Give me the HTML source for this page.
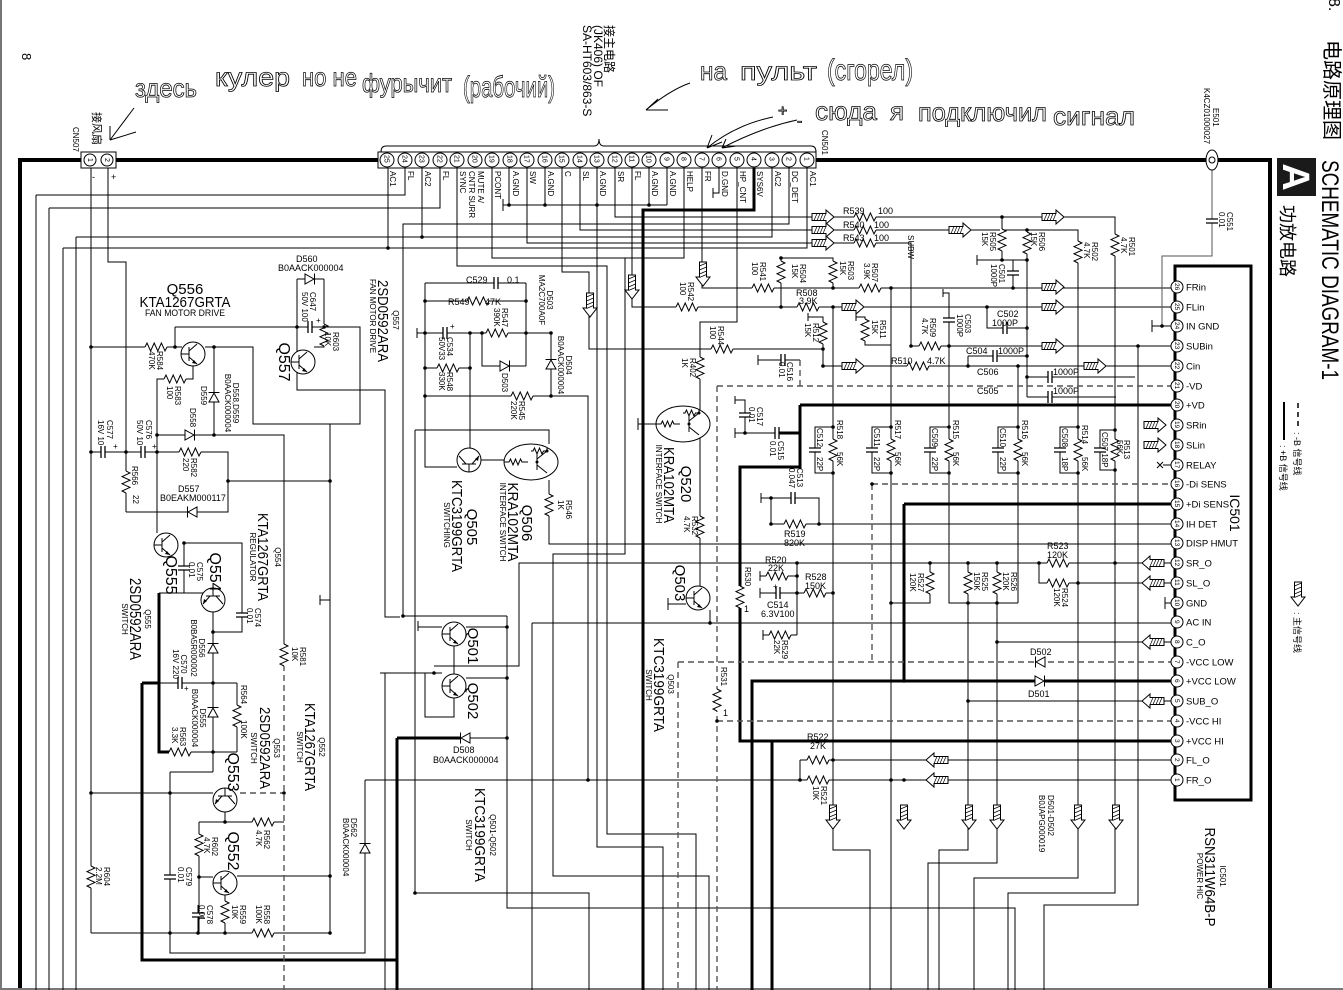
<!DOCTYPE html>
<html><head><meta charset="utf-8">
<style>
html,body{margin:0;padding:0;background:#fff;}
svg{display:block;}
text{font-family:"Liberation Sans","Noto Sans CJK SC",sans-serif;fill:#000;}
.s7{font-size:7px}.s8{font-size:8px}.s9{font-size:9px}.s10{font-size:9.5px}
.L15{font-size:15px}.L16{font-size:16px}
.hw text{font-family:"Liberation Sans","DejaVu Sans",sans-serif;fill:none;stroke:#000;stroke-width:0.8;font-size:26px}
</style></head><body>
<svg width="1343" height="990" viewBox="0 0 1343 990" xmlns="http://www.w3.org/2000/svg">
<defs>
<g id="rh"><rect x="-11" y="-2" width="22" height="4" fill="#fff"/><path d="M-11,0 l2,-4 l3.6,8 l3.6,-8 l3.6,8 l3.6,-8 l3.6,8 l2,-4" fill="none" stroke="#000"/></g>
<g id="rv"><rect x="-2" y="-11" width="4" height="22" fill="#fff"/><path d="M0,-11 l4,2 l-8,3.6 l8,3.6 l-8,3.6 l8,3.6 l-8,3.6 l4,2" fill="none" stroke="#000"/></g>
<g id="ch"><rect x="-2" y="-6" width="4" height="12" fill="#fff"/><path d="M-2,-6v12M2,-6v12" stroke="#000" stroke-width="1.3"/></g>
<g id="cv"><rect x="-6" y="-2" width="12" height="4" fill="#fff"/><path d="M-6,-2h12M-6,2h12" stroke="#000" stroke-width="1.3"/></g>
<g id="dR"><rect x="-5" y="-5" width="10" height="10" fill="#fff"/><path d="M-5,-5V5L4,0Z" fill="#fff" stroke="#000"/><path d="M4.5,-5.5v11" stroke="#000"/></g>
<g id="tq"><circle r="12" fill="#fff" stroke="#000"/><path d="M-4,-7v14M-12,0h8M-4,-3l8,-7M-4,3l8,7" fill="none" stroke="#000"/><path d="M4,10l-5,-1l2,-3z"/></g>
<g id="td"><ellipse rx="27" ry="18" fill="#fff" stroke="#000"/><path d="M-27,0h5 l1.5,-3 2.5,6 2.5,-6 2.5,6 2.5,-6 1.5,3 h6 M6,-8v16 M6,-3l10,-8 M6,3l10,8 M16,-11v-3 M0,-11h2 l1.5,-3 2.5,6 2.5,-6 2.5,6 1.5,-3h4" fill="none" stroke="#000"/><circle cx="6" cy="0" r="1.5"/><circle cx="16" cy="-11" r="1.5"/></g>
<g id="aR"><path d="M-11,-3.5H3V-7L11,0L3,7V3.5H-11Z" fill="#fff" stroke="#000"/><path d="M-9,3.5l3,-7M-6,3.5l3,-7M-3,3.5l3,-7M0,3.5l3,-7" stroke="#000" stroke-width=".7"/></g>
<g id="aD"><path d="M-3.5,-12V3H-7L0,12L7,3H3.5V-12Z" fill="#fff" stroke="#000"/><path d="M-3.5,-8l7,-3M-3.5,-4l7,-3M-3.5,0l7,-3M-3.5,3.5l7,-3" stroke="#000" stroke-width=".7"/></g>
<circle id="dot" r="1.8"/>
</defs>

<path d="M1,0V990M0,989H1343" stroke="#777" stroke-width="2"/>
<path d="M20,988V160H1206M1218,160H1270V988" stroke="#000" stroke-width="4" fill="none"/>

<g stroke="#000" fill="none" stroke-width="1">
<path d="M91,168V933M108,168V262H126V512M36,195V990M49,208V990M63,248V990M76,237V990
M36,195H405V168M49,208H440V168M76,237H772V168M63,248H807V168M388,168V248M422,168V237
M789,168V224H403V616M509,168V205M545,168V205M649,168V205M667,168V205M503,205H667M503,199V211
M597,168V847H663V990M719,168V193H713M713,188V198M615,168V217H1115V893H1008V990
M580,168V230H1078V878H974V990M527,168V243H911V346H1171M492,168V258H684V168
M457,168V266H607V834H696V990M625,258V554H553V876H709V990M562,168V272H589V349H823V366H1171
M632,168V307H1171M702,168V288H1171M737,168V322H700V586"/>
<path d="M91,347H182M175,327V347M175,327H360V424H253V347H205M214,347V435M193,366V379H157V533
M157,435H284V665M91,452H228V512H126M228,481H330M330,424V933M320,595V605M320,600H330
M184,543H242V632H213M184,543V593M159,593H204M297,279H324M297,279V390H385V617H400M324,279V347H314
M213,612V772M170,772H213M170,772V953H365V780M91,793H213M225,812V822M199,822H284M199,822V933
M199,877H213M237,876H330M91,933H330M225,895V933M198,905V933M159,683H237M237,683V752M159,752H237"/>
<path d="M425,283H526M425,283V467H457M526,283V366M425,301H526M417,328V338M417,333H551M470,333V448
M482,333V366H526M425,368H470M425,396H588V780M551,333V396M415,430H549V444M415,430V893H589V990
M481,460H504M549,480V544H1171M403,616H507M418,621V631M418,627H442M466,627H507M507,616V908H1015V990
M434,666H519V563H1171M380,673H442M466,678H507M454,698V717H425V673M454,646V674M385,673V990
M532,623H1171M532,623V990M710,610V623M668,598V610M668,604H686M638,418V430M638,424H656M365,780H1171M470,738H507"/>
<path d="M781,258H833V288M781,258V307M833,307V850H870V990M891,288V990M943,289V297M943,293H949V603H1018M1018,366V603
M930,563V603H891M968,563V850H939V990M997,563V863H928V990M1138,346V905H1044V990
M1002,217V260M977,255V265M977,260H1027M1027,230V397M1013,260V288M987,307V328H1027M968,356H1027M968,356V366
M1027,377H1135M1027,397H1116M856,313V321M856,317H865V345H891M808,313V321M808,317H823V349
M758,355V365M758,360H800M735,396V404M735,400H745V433M735,428V438M735,433H777
M761,493V503M761,498H819V524M771,498V524H819M819,524H1171M760,571V581M760,576H797M797,563V635
M760,588V598M760,593H833M763,630V640M763,635H797M800,760V780M800,760H1171M1039,563V583H1171
M997,642H1171M968,701H1171M1152,320V332M1152,326H1171M1165,597V609M1165,603H1171M1163,465H1171
M833,427H815V473H833M891,427H872V473H891M949,427H930V473H949M1018,427H998V473H1018M1078,427H1060V473H1078M1115,430H1100V470H1115"/>
<path d="M1212,170V256H1162V326" stroke="#555"/>
</g>
<path d="M142,683V960H397M142,683H159M159,593V752H170M397,738V990M397,738H460M754,168V210H643V990
M800,405H1171M800,405V467H740V741H1171M777,433H800M904,504H1171M904,504V681H752V990M752,681H1171M772,741V990" stroke="#000" stroke-width="3" fill="none"/>
<path d="M717,386H1171M717,386V990M872,484H1171M872,484V662M678,662H1171M678,662V990M717,721H1171M800,360V386M284,665V990M240,793H284" stroke="#555" stroke-width="1.4" stroke-dasharray="6,4" fill="none"/>

<path d="M1157,462l6,6M1163,462l-6,6" stroke="#000"/>

<ellipse cx="1212" cy="160" rx="6" ry="10" fill="#fff" stroke="#000"/><circle cx="1212" cy="160" r="3" fill="none" stroke="#000"/>
<use href="#cv" x="1212" y="221"/>

<rect x="81" y="152" width="35" height="16" fill="#fff" stroke="#000"/>
<circle cx="90" cy="160" r="6" fill="#fff" stroke="#000"/><circle cx="107" cy="160" r="6" fill="#fff" stroke="#000"/>
<text class="s7" transform="translate(88,158) rotate(90)">1</text><text class="s7" transform="translate(105,158) rotate(90)">2</text>
<text class="s9" x="92" y="180">-</text><text class="s9" x="111" y="180">+</text>

<path d="M381,152Q381,146 386,146L594,146Q599,146 599,139Q599,146 604,146L811,146Q816,146 816,152" fill="none" stroke="#000"/>
<rect x="378" y="152" width="438" height="16" fill="#fff" stroke="#000"/>
<g fill="#fff" stroke="#000">
<circle cx="387" cy="160" r="7"/><circle cx="405" cy="160" r="7"/><circle cx="422" cy="160" r="7"/><circle cx="440" cy="160" r="7"/><circle cx="457" cy="160" r="7"/><circle cx="475" cy="160" r="7"/><circle cx="492" cy="160" r="7"/><circle cx="510" cy="160" r="7"/><circle cx="527" cy="160" r="7"/><circle cx="545" cy="160" r="7"/><circle cx="562" cy="160" r="7"/><circle cx="580" cy="160" r="7"/><circle cx="597" cy="160" r="7"/><circle cx="615" cy="160" r="7"/><circle cx="632" cy="160" r="7"/><circle cx="649" cy="160" r="7"/><circle cx="667" cy="160" r="7"/><circle cx="684" cy="160" r="7"/><circle cx="702" cy="160" r="7"/><circle cx="719" cy="160" r="7"/><circle cx="737" cy="160" r="7"/><circle cx="754" cy="160" r="7"/><circle cx="772" cy="160" r="7"/><circle cx="789" cy="160" r="7"/><circle cx="807" cy="160" r="7"/>
</g>
<g class="s7">
<text transform="translate(384.5,155) rotate(90)">25</text><text transform="translate(402.5,155) rotate(90)">24</text><text transform="translate(419.5,155) rotate(90)">23</text><text transform="translate(437.5,155) rotate(90)">22</text><text transform="translate(454.5,155) rotate(90)">21</text><text transform="translate(472.5,155) rotate(90)">20</text><text transform="translate(489.5,155) rotate(90)">19</text><text transform="translate(507.5,155) rotate(90)">18</text><text transform="translate(524.5,155) rotate(90)">17</text><text transform="translate(542.5,155) rotate(90)">16</text><text transform="translate(559.5,155) rotate(90)">15</text><text transform="translate(577.5,155) rotate(90)">14</text><text transform="translate(594.5,155) rotate(90)">13</text><text transform="translate(612.5,155) rotate(90)">12</text><text transform="translate(629.5,155) rotate(90)">11</text><text transform="translate(646.5,155) rotate(90)">10</text><text transform="translate(664.5,157) rotate(90)">9</text><text transform="translate(681.5,157) rotate(90)">8</text><text transform="translate(699.5,157) rotate(90)">7</text><text transform="translate(716.5,157) rotate(90)">6</text><text transform="translate(734.5,157) rotate(90)">5</text><text transform="translate(751.5,157) rotate(90)">4</text><text transform="translate(769.5,157) rotate(90)">3</text><text transform="translate(786.5,157) rotate(90)">2</text><text transform="translate(804.5,157) rotate(90)">1</text>
</g>
<g class="s8">
<text transform="translate(390,171) rotate(90)">AC1</text><text transform="translate(408,171) rotate(90)">FL</text><text transform="translate(425,171) rotate(90)">AC2</text><text transform="translate(443,171) rotate(90)">FL</text><text transform="translate(460,171) rotate(90)">SYNC</text>
<text transform="translate(478,171) rotate(90)">MUTE A/<tspan x="0" dy="9">CNTR SURR</tspan></text>
<text transform="translate(495,171) rotate(90)">PCONT</text><text transform="translate(513,171) rotate(90)">A.GND</text><text transform="translate(530,171) rotate(90)">SW</text><text transform="translate(548,171) rotate(90)">A.GND</text><text transform="translate(565,171) rotate(90)">C</text><text transform="translate(583,171) rotate(90)">SL</text><text transform="translate(600,171) rotate(90)">A.GND</text><text transform="translate(618,171) rotate(90)">SR</text><text transform="translate(635,171) rotate(90)">FL</text><text transform="translate(652,171) rotate(90)">A.GND</text><text transform="translate(670,171) rotate(90)">A.GND</text><text transform="translate(687,171) rotate(90)">HELP</text><text transform="translate(705,171) rotate(90)">FR</text><text transform="translate(722,171) rotate(90)">D.GND</text><text transform="translate(740,171) rotate(90)">HP_CNT</text><text transform="translate(757,171) rotate(90)">SYS6V</text><text transform="translate(775,171) rotate(90)">AC2</text><text transform="translate(792,171) rotate(90)">DC_DET</text><text transform="translate(810,171) rotate(90)">AC1</text>
</g>

<rect x="1175" y="266" width="76" height="534" fill="none" stroke="#000" stroke-width="3"/>
<g fill="#fff" stroke="#000">
<circle cx="1177" cy="287" r="6"/><circle cx="1177" cy="307" r="6"/><circle cx="1177" cy="326" r="6"/><circle cx="1177" cy="346" r="6"/><circle cx="1177" cy="366" r="6"/><circle cx="1177" cy="386" r="6"/><circle cx="1177" cy="405" r="6"/><circle cx="1177" cy="425" r="6"/><circle cx="1177" cy="445" r="6"/><circle cx="1177" cy="465" r="6"/><circle cx="1177" cy="484" r="6"/><circle cx="1177" cy="504" r="6"/><circle cx="1177" cy="524" r="6"/><circle cx="1177" cy="543" r="6"/><circle cx="1177" cy="563" r="6"/><circle cx="1177" cy="583" r="6"/><circle cx="1177" cy="603" r="6"/><circle cx="1177" cy="622" r="6"/><circle cx="1177" cy="642" r="6"/><circle cx="1177" cy="662" r="6"/><circle cx="1177" cy="681" r="6"/><circle cx="1177" cy="701" r="6"/><circle cx="1177" cy="721" r="6"/><circle cx="1177" cy="741" r="6"/><circle cx="1177" cy="760" r="6"/><circle cx="1177" cy="780" r="6"/>
</g>
<g style="font-size:6.5px">
<text transform="translate(1175,283) rotate(90)">26</text><text transform="translate(1175,303) rotate(90)">25</text><text transform="translate(1175,322) rotate(90)">24</text><text transform="translate(1175,342) rotate(90)">23</text><text transform="translate(1175,362) rotate(90)">22</text><text transform="translate(1175,382) rotate(90)">21</text><text transform="translate(1175,401) rotate(90)">20</text><text transform="translate(1175,421) rotate(90)">19</text><text transform="translate(1175,441) rotate(90)">18</text><text transform="translate(1175,461) rotate(90)">17</text><text transform="translate(1175,480) rotate(90)">16</text><text transform="translate(1175,500) rotate(90)">15</text><text transform="translate(1175,520) rotate(90)">14</text><text transform="translate(1175,539) rotate(90)">13</text><text transform="translate(1175,559) rotate(90)">12</text><text transform="translate(1175,579) rotate(90)">11</text><text transform="translate(1175,599) rotate(90)">10</text><text transform="translate(1175,620) rotate(90)">9</text><text transform="translate(1175,640) rotate(90)">8</text><text transform="translate(1175,660) rotate(90)">7</text><text transform="translate(1175,679) rotate(90)">6</text><text transform="translate(1175,699) rotate(90)">5</text><text transform="translate(1175,719) rotate(90)">4</text><text transform="translate(1175,739) rotate(90)">3</text><text transform="translate(1175,758) rotate(90)">2</text><text transform="translate(1175,778) rotate(90)">1</text>
</g>
<g class="s10">
<text x="1186" y="290.5">FRin</text><text x="1186" y="310.5">FLin</text><text x="1186" y="329.5">IN GND</text><text x="1186" y="349.5">SUBin</text><text x="1186" y="369.5">Cin</text><text x="1186" y="389.5">-VD</text><text x="1186" y="408.5">+VD</text><text x="1186" y="428.5">SRin</text><text x="1186" y="448.5">SLin</text><text x="1186" y="468.5">RELAY</text><text x="1186" y="487.5">-Di SENS</text><text x="1186" y="507.5">+Di SENS</text><text x="1186" y="527.5">IH DET</text><text x="1186" y="546.5">DISP HMUT</text><text x="1186" y="566.5">SR_O</text><text x="1186" y="586.5">SL_O</text><text x="1186" y="606.5">GND</text><text x="1186" y="625.5">AC IN</text><text x="1186" y="645.5">C_O</text><text x="1186" y="665.5">-VCC LOW</text><text x="1186" y="684.5">+VCC LOW</text><text x="1186" y="704.5">SUB_O</text><text x="1186" y="724.5">-VCC HI</text><text x="1186" y="744.5">+VCC HI</text><text x="1186" y="763.5">FL_O</text><text x="1186" y="783.5">FR_O</text>
</g>
<text style="font-size:14px" text-anchor="middle" transform="translate(1230,513) rotate(90)">IC501</text>

<g>
<use href="#rh" transform="translate(156,347)"/><use href="#rh" transform="translate(175,379)"/><use href="#rh" transform="translate(190,452)"/><use href="#rh" transform="translate(865,217)"/><use href="#rh" transform="translate(865,230)"/><use href="#rh" transform="translate(865,243)"/><use href="#rh" transform="translate(478,301)"/><use href="#rh" transform="translate(497,333)"/><use href="#rh" transform="translate(448,368)"/><use href="#rh" transform="translate(522,396)"/><use href="#rh" transform="translate(687,307)"/><use href="#rh" transform="translate(722,349)"/><use href="#rh" transform="translate(763,288)"/><use href="#rh" transform="translate(870,288)"/><use href="#rh" transform="translate(808,307)"/><use href="#rh" transform="translate(930,346)"/><use href="#rh" transform="translate(918,366)"/><use href="#rh" transform="translate(795,524)"/><use href="#rh" transform="translate(777,576)"/><use href="#rh" transform="translate(815,593)"/><use href="#rh" transform="translate(780,635)"/><use href="#rh" transform="translate(1058,563)"/><use href="#rh" transform="translate(1058,583)"/><use href="#rh" transform="translate(818,760)"/><use href="#rh" transform="translate(818,780)"/><use href="#rh" transform="translate(263,822)"/><use href="#rh" transform="translate(263,933)"/><use href="#rh" transform="translate(180,752)"/>
<use href="#rv" transform="translate(324,335)"/><use href="#rv" transform="translate(126,482)"/><use href="#rv" transform="translate(284,655)"/><use href="#rv" transform="translate(237,716)"/><use href="#rv" transform="translate(199,845)"/><use href="#rv" transform="translate(225,912)"/><use href="#rv" transform="translate(91,877)"/><use href="#rv" transform="translate(549,505)"/><use href="#rv" transform="translate(700,368)"/><use href="#rv" transform="translate(700,527)"/><use href="#rv" transform="translate(740,597)"/><use href="#rv" transform="translate(717,700)"/><use href="#rv" transform="translate(781,272)"/><use href="#rv" transform="translate(833,272)"/><use href="#rv" transform="translate(1002,240)"/><use href="#rv" transform="translate(1027,243)"/><use href="#rv" transform="translate(1078,252)"/><use href="#rv" transform="translate(1115,245)"/><use href="#rv" transform="translate(823,333)"/><use href="#rv" transform="translate(865,330)"/><use href="#rv" transform="translate(833,450)"/><use href="#rv" transform="translate(891,450)"/><use href="#rv" transform="translate(949,450)"/><use href="#rv" transform="translate(1018,450)"/><use href="#rv" transform="translate(1078,450)"/><use href="#rv" transform="translate(1115,450)"/><use href="#rv" transform="translate(930,583)"/><use href="#rv" transform="translate(968,583)"/><use href="#rv" transform="translate(997,583)"/>
</g>
<g>
<use href="#ch" transform="translate(496,283)"/><use href="#ch" transform="translate(445,333)"/><use href="#ch" transform="translate(103,452)"/><use href="#ch" transform="translate(143,452)"/><use href="#ch" transform="translate(180,683)"/><use href="#ch" transform="translate(777,433)"/><use href="#ch" transform="translate(783,360)"/><use href="#ch" transform="translate(793,498)"/><use href="#ch" transform="translate(778,593)"/><use href="#ch" transform="translate(1005,328)"/><use href="#ch" transform="translate(995,356)"/><use href="#ch" transform="translate(1050,377)"/><use href="#ch" transform="translate(1050,397)"/><use href="#ch" transform="translate(310,327)"/>
<use href="#cv" transform="translate(184,568)"/><use href="#cv" transform="translate(242,615)"/><use href="#cv" transform="translate(170,877)"/><use href="#cv" transform="translate(198,915)"/><use href="#cv" transform="translate(949,320)"/><use href="#cv" transform="translate(1013,273)"/><use href="#cv" transform="translate(745,415)"/><use href="#cv" transform="translate(815,450)"/><use href="#cv" transform="translate(872,450)"/><use href="#cv" transform="translate(930,450)"/><use href="#cv" transform="translate(998,450)"/><use href="#cv" transform="translate(1060,450)"/><use href="#cv" transform="translate(1100,450)"/>
</g>
<g class="s8"><text x="113" y="449">+</text><text x="152" y="449">+</text><text x="316" y="323">+</text><text x="450" y="329">+</text><text x="773" y="589">+</text><text x="184" y="691">+</text></g>
<g>
<use href="#dR" transform="translate(310,279)"/><use href="#dR" transform="translate(214,397) rotate(-90)"/><use href="#dR" transform="translate(190,435)"/><use href="#dR" transform="translate(192,512) rotate(180)"/><use href="#dR" transform="translate(213,648) rotate(-90)"/><use href="#dR" transform="translate(213,712) rotate(-90)"/><use href="#dR" transform="translate(365,848) rotate(-90)"/><use href="#dR" transform="translate(505,366)"/><use href="#dR" transform="translate(551,364) rotate(-90)"/><use href="#dR" transform="translate(465,738) rotate(180)"/><use href="#dR" transform="translate(1040,662) rotate(180)"/><use href="#dR" transform="translate(1040,681)"/>
</g>
<g>
<use href="#tq" transform="translate(193,354)"/><use href="#tq" transform="translate(303,362)"/><use href="#tq" transform="translate(166,545)"/><use href="#tq" transform="translate(213,600) rotate(90)"/><use href="#tq" transform="translate(225,800) rotate(90)"/><use href="#tq" transform="translate(225,883)"/><use href="#tq" transform="translate(469,460) rotate(-90)"/><use href="#tq" transform="translate(454,634)"/><use href="#tq" transform="translate(454,686)"/><use href="#tq" transform="translate(698,598)"/>
<use href="#td" transform="translate(531,462)"/><use href="#td" transform="translate(683,424)"/>
</g>
<g>
<use href="#aR" transform="translate(823,217)"/><use href="#aR" transform="translate(823,230)"/><use href="#aR" transform="translate(823,243)"/><use href="#aR" transform="translate(960,230)"/><use href="#aR" transform="translate(1053,217)"/><use href="#aR" transform="translate(1053,287)"/><use href="#aR" transform="translate(1053,307)"/><use href="#aR" transform="translate(853,307)"/><use href="#aR" transform="translate(853,366)"/><use href="#aR" transform="translate(1053,346)"/><use href="#aR" transform="translate(1095,366)"/><use href="#aR" transform="translate(1155,425)"/><use href="#aR" transform="translate(1155,445)"/>
<use href="#aR" transform="translate(1153,563) rotate(180)"/><use href="#aR" transform="translate(1153,583) rotate(180)"/><use href="#aR" transform="translate(1153,642) rotate(180)"/><use href="#aR" transform="translate(1153,701) rotate(180)"/><use href="#aR" transform="translate(937,760) rotate(180)"/><use href="#aR" transform="translate(937,780) rotate(180)"/>
<use href="#aD" transform="translate(632,287)"/><use href="#aD" transform="translate(590,305)"/><use href="#aD" transform="translate(703,274)"/><use href="#aD" transform="translate(833,817)"/><use href="#aD" transform="translate(904,817)"/><use href="#aD" transform="translate(969,817)"/><use href="#aD" transform="translate(997,817)"/><use href="#aD" transform="translate(1078,817)"/><use href="#aD" transform="translate(1116,817)"/><use href="#aD" transform="translate(1298,594)"/>
</g>
<g>
<use href="#dot" x="388" y="248"/><use href="#dot" x="422" y="237"/><use href="#dot" x="509" y="205"/><use href="#dot" x="545" y="205"/><use href="#dot" x="597" y="205"/><use href="#dot" x="649" y="205"/><use href="#dot" x="91" y="347"/><use href="#dot" x="91" y="452"/><use href="#dot" x="175" y="347"/><use href="#dot" x="214" y="347"/><use href="#dot" x="126" y="452"/><use href="#dot" x="157" y="452"/><use href="#dot" x="157" y="435"/><use href="#dot" x="214" y="435"/><use href="#dot" x="228" y="481"/><use href="#dot" x="330" y="481"/><use href="#dot" x="297" y="327"/><use href="#dot" x="324" y="327"/><use href="#dot" x="184" y="543"/><use href="#dot" x="213" y="632"/><use href="#dot" x="213" y="683"/><use href="#dot" x="213" y="752"/><use href="#dot" x="170" y="793"/><use href="#dot" x="91" y="793"/><use href="#dot" x="284" y="793"/><use href="#dot" x="225" y="822"/><use href="#dot" x="199" y="877"/><use href="#dot" x="330" y="876"/><use href="#dot" x="170" y="933"/><use href="#dot" x="198" y="933"/><use href="#dot" x="225" y="933"/><use href="#dot" x="330" y="933"/>
<use href="#dot" x="425" y="301"/><use href="#dot" x="526" y="301"/><use href="#dot" x="425" y="333"/><use href="#dot" x="470" y="333"/><use href="#dot" x="482" y="333"/><use href="#dot" x="526" y="333"/><use href="#dot" x="551" y="333"/><use href="#dot" x="425" y="368"/><use href="#dot" x="470" y="368"/><use href="#dot" x="551" y="396"/><use href="#dot" x="425" y="396"/><use href="#dot" x="588" y="780"/><use href="#dot" x="507" y="738"/><use href="#dot" x="403" y="616"/><use href="#dot" x="434" y="673"/><use href="#dot" x="507" y="678"/><use href="#dot" x="507" y="627"/><use href="#dot" x="710" y="623"/><use href="#dot" x="415" y="893"/>
<use href="#dot" x="833" y="307"/><use href="#dot" x="781" y="307"/><use href="#dot" x="781" y="258"/><use href="#dot" x="833" y="288"/><use href="#dot" x="891" y="288"/><use href="#dot" x="949" y="346"/><use href="#dot" x="911" y="346"/><use href="#dot" x="1002" y="217"/><use href="#dot" x="1027" y="230"/><use href="#dot" x="1002" y="260"/><use href="#dot" x="1027" y="260"/><use href="#dot" x="1013" y="288"/><use href="#dot" x="987" y="307"/><use href="#dot" x="1027" y="328"/><use href="#dot" x="968" y="366"/><use href="#dot" x="1027" y="356"/><use href="#dot" x="1027" y="377"/><use href="#dot" x="1018" y="366"/><use href="#dot" x="823" y="366"/><use href="#dot" x="823" y="349"/>
<use href="#dot" x="833" y="427"/><use href="#dot" x="833" y="473"/><use href="#dot" x="891" y="427"/><use href="#dot" x="891" y="473"/><use href="#dot" x="949" y="427"/><use href="#dot" x="949" y="473"/><use href="#dot" x="1018" y="427"/><use href="#dot" x="1018" y="473"/><use href="#dot" x="1078" y="427"/><use href="#dot" x="1078" y="473"/><use href="#dot" x="1115" y="430"/><use href="#dot" x="1115" y="470"/>
<use href="#dot" x="797" y="563"/><use href="#dot" x="797" y="576"/><use href="#dot" x="797" y="593"/><use href="#dot" x="833" y="593"/><use href="#dot" x="930" y="563"/><use href="#dot" x="968" y="563"/><use href="#dot" x="997" y="563"/><use href="#dot" x="1039" y="563"/><use href="#dot" x="1078" y="583"/><use href="#dot" x="1115" y="563"/><use href="#dot" x="997" y="642"/><use href="#dot" x="968" y="701"/><use href="#dot" x="891" y="603"/><use href="#dot" x="968" y="603"/><use href="#dot" x="997" y="603"/><use href="#dot" x="833" y="760"/><use href="#dot" x="800" y="780"/><use href="#dot" x="891" y="780"/><use href="#dot" x="904" y="780"/><use href="#dot" x="1115" y="405"/><use href="#dot" x="1138" y="346"/><use href="#dot" x="1162" y="326"/><use href="#dot" x="819" y="524"/><use href="#dot" x="771" y="524"/><use href="#dot" x="771" y="498"/><use href="#dot" x="745" y="433"/><use href="#dot" x="717" y="721"/><use href="#dot" x="872" y="484"/><use href="#dot" x="904" y="681"/>
</g>

<g class="s9">
<text x="843" y="214">R539</text><text x="878" y="214">100</text>
<text x="843" y="228">R540</text><text x="874" y="228">100</text>
<text x="843" y="241">R543</text><text x="874" y="241">100</text>
<text x="448" y="305">R549</text><text x="485" y="305">47K</text>
<text x="466" y="283">C529</text><text x="507" y="283">0.1</text>
<text x="796" y="296">R508</text><text x="799" y="304">3.9K</text>
<text x="997" y="317">C502</text><text x="992" y="326">1000P</text>
<text x="966" y="354">C504</text><text x="998" y="354">1000P</text>
<text x="891" y="364">R510</text><text x="927" y="364">4.7K</text>
<text x="977" y="375">C506</text><text x="1053" y="375">1000P</text>
<text x="977" y="394">C505</text><text x="1053" y="394">1000P</text>
<text x="784" y="537">R519</text><text x="784" y="546">820K</text>
<text x="765" y="563">R520</text><text x="768" y="571">22K</text>
<text x="805" y="580">R528</text><text x="805" y="589">150K</text>
<text x="767" y="608">C514</text><text x="761" y="617">6.3V100</text>
<text x="1047" y="549">R523</text><text x="1047" y="558">120K</text>
<text x="1030" y="655">D502</text><text x="1028" y="697">D501</text>
<text x="807" y="740">R522</text><text x="810" y="749">27K</text>
<text x="744" y="612">1</text><text x="723" y="716">1</text>
<text x="296" y="262">D560</text><text x="278" y="271">B0AACK000004</text>
<text x="178" y="492">D557</text><text x="160" y="501">B0EAKM000117</text>
<text x="453" y="753">D508</text><text x="433" y="763">B0AACK000004</text>
</g>
<text class="L15" x="185" y="294" text-anchor="middle">Q556</text>
<text class="L15" x="185" y="307" text-anchor="middle" textLength="91" lengthAdjust="spacingAndGlyphs">KTA1267GRTA</text>
<text class="s9" x="185" y="316" text-anchor="middle" textLength="80" lengthAdjust="spacingAndGlyphs">FAN MOTOR DRIVE</text>

<g class="s8">
<text transform="translate(990,232) rotate(90)">R505<tspan x="0" dy="8">15K</tspan></text>
<text transform="translate(999,264) rotate(90)">C501<tspan x="0" dy="8">1000P</tspan></text>
<text transform="translate(1039,232) rotate(90)">R506<tspan x="0" dy="8">15K</tspan></text>
<text transform="translate(1092,242) rotate(90)">R502<tspan x="0" dy="8">4.7K</tspan></text>
<text transform="translate(1129,237) rotate(90)">R501<tspan x="0" dy="8">4.7K</tspan></text>
<text transform="translate(800,264) rotate(90)">R504<tspan x="0" dy="8">15K</tspan></text>
<text transform="translate(848,261) rotate(90)">R503<tspan x="0" dy="8">15K</tspan></text>
<text transform="translate(760,262) rotate(90)">R541<tspan x="0" dy="8">100</tspan></text>
<text transform="translate(872,263) rotate(90)">R507<tspan x="0" dy="8">3.9K</tspan></text>
<text transform="translate(813,323) rotate(90)">R512<tspan x="0" dy="8">15K</tspan></text>
<text transform="translate(880,320) rotate(90)">R511<tspan x="0" dy="8">15K</tspan></text>
<text transform="translate(930,318) rotate(90)">R509<tspan x="0" dy="8">4.7K</tspan></text>
<text transform="translate(965,314) rotate(90)">C503<tspan x="0" dy="8">1000P</tspan></text>
<text transform="translate(688,282) rotate(90)">R542<tspan x="0" dy="8">100</tspan></text>
<text transform="translate(718,326) rotate(90)">R544<tspan x="0" dy="8">100</tspan></text>
<text transform="translate(690,358) rotate(90)">R402<tspan x="0" dy="8">1K</tspan></text>
<text transform="translate(692,516) rotate(90)">R532<tspan x="0" dy="8">4.7K</tspan></text>
<text transform="translate(787,362) rotate(90)">C516<tspan x="0" dy="8">0.01</tspan></text>
<text transform="translate(757,407) rotate(90)">C517<tspan x="0" dy="8">0.01</tspan></text>
<text transform="translate(778,441) rotate(90)">C515<tspan x="0" dy="8">0.01</tspan></text>
<text transform="translate(797,468) rotate(90)">C513<tspan x="0" dy="8">0.047</tspan></text>
<text transform="translate(782,640) rotate(90)">R529<tspan x="0" dy="8">22K</tspan></text>
<text transform="translate(745,567) rotate(90)">R530</text>
<text transform="translate(721,667) rotate(90)">R531</text>
<text transform="translate(918,573) rotate(90)">R527<tspan x="0" dy="8">120K</tspan></text>
<text transform="translate(982,572) rotate(90)">R525<tspan x="0" dy="8">150K</tspan></text>
<text transform="translate(1011,572) rotate(90)">R526<tspan x="0" dy="8">120K</tspan></text>
<text transform="translate(1062,588) rotate(90)">R524<tspan x="0" dy="8">120K</tspan></text>
<text transform="translate(821,786) rotate(90)">R521<tspan x="0" dy="8">10K</tspan></text>
<text transform="translate(1048,795) rotate(90)">D501-D502<tspan x="0" dy="9">B0JAPG000019</tspan></text>
<text transform="translate(837,420) rotate(90)">R518</text><text transform="translate(837,452) rotate(90)">56K</text>
<text transform="translate(895,420) rotate(90)">R517</text><text transform="translate(895,452) rotate(90)">56K</text>
<text transform="translate(953,420) rotate(90)">R515</text><text transform="translate(953,452) rotate(90)">56K</text>
<text transform="translate(1022,420) rotate(90)">R516</text><text transform="translate(1022,452) rotate(90)">56K</text>
<text transform="translate(1082,425) rotate(90)">R514</text><text transform="translate(1082,457) rotate(90)">56K</text>
<text transform="translate(1124,440) rotate(90)">R513<tspan x="0" dy="7">56K</tspan></text>
<text transform="translate(817,428) rotate(90)">C512</text><text transform="translate(817,457) rotate(90)">22P</text>
<text transform="translate(874,428) rotate(90)">C511</text><text transform="translate(874,457) rotate(90)">22P</text>
<text transform="translate(932,428) rotate(90)">C509</text><text transform="translate(932,457) rotate(90)">22P</text>
<text transform="translate(1000,428) rotate(90)">C510</text><text transform="translate(1000,457) rotate(90)">22P</text>
<text transform="translate(1062,428) rotate(90)">C508</text><text transform="translate(1062,457) rotate(90)">18P</text>
<text transform="translate(1102,432) rotate(90)">C507 18P</text>
<text transform="translate(1227,212) rotate(90)">C551<tspan x="0" dy="8">0.01</tspan></text>
<text transform="translate(908,235) rotate(90)">SUBW</text>
<text transform="translate(333,332) rotate(90)">R603<tspan x="0" dy="8">10K</tspan></text>
<text transform="translate(157,351) rotate(90)">R584<tspan x="0" dy="8">470K</tspan></text>
<text transform="translate(175,386) rotate(90)">R583<tspan x="0" dy="8">100</tspan></text>
<text transform="translate(201,386) rotate(90)">D559</text>
<text text-anchor="middle" transform="translate(233,403) rotate(90)">D558,D559<tspan x="0" dy="8">B0AACK000004</tspan></text>
<text transform="translate(190,408) rotate(90)">D558</text>
<text transform="translate(310,292) rotate(90)">C647<tspan x="0" dy="8">50V 100</tspan></text>
<text transform="translate(107,420) rotate(90)">C577<tspan x="0" dy="9">16V 10</tspan></text>
<text transform="translate(146,420) rotate(90)">C576<tspan x="0" dy="9">50V 10</tspan></text>
<text transform="translate(191,458) rotate(90)">R582<tspan x="0" dy="8">220</tspan></text>
<text transform="translate(132,466) rotate(90)">R566</text><text transform="translate(133,495) rotate(90)">22</text>
<text transform="translate(197,562) rotate(90)">C575<tspan x="0" dy="8">0.01</tspan></text>
<text transform="translate(255,608) rotate(90)">C574<tspan x="0" dy="8">0.01</tspan></text>
<text text-anchor="middle" transform="translate(199,648) rotate(90)">D556<tspan x="0" dy="8">B0BA5R000002</tspan></text>
<text text-anchor="middle" transform="translate(181,664) rotate(90)">C570<tspan x="0" dy="8">16V 220</tspan></text>
<text text-anchor="middle" transform="translate(200,718) rotate(90)">D555<tspan x="0" dy="8">B0AACK000004</tspan></text>
<text transform="translate(180,727) rotate(90)">R563<tspan x="0" dy="8">3.3K</tspan></text>
<text transform="translate(241,685) rotate(90)">R564</text><text transform="translate(241,720) rotate(90)">100K</text>
<text transform="translate(300,647) rotate(90)">R581<tspan x="0" dy="8">10K</tspan></text>
<text transform="translate(264,830) rotate(90)">R562<tspan x="0" dy="8">4.7K</tspan></text>
<text transform="translate(212,837) rotate(90)">R602<tspan x="0" dy="8">4.7K</tspan></text>
<text transform="translate(186,867) rotate(90)">C579<tspan x="0" dy="8">0.01</tspan></text>
<text transform="translate(207,905) rotate(90)">C578<tspan x="0" dy="8">0.01</tspan></text>
<text transform="translate(240,905) rotate(90)">R559<tspan x="0" dy="8">10K</tspan></text>
<text transform="translate(264,905) rotate(90)">R558<tspan x="0" dy="8">100K</tspan></text>
<text transform="translate(104,867) rotate(90)">R604<tspan x="0" dy="8">2.2M</tspan></text>
<text transform="translate(351,818) rotate(90)">D562<tspan x="0" dy="8">B0AACK000004</tspan></text>
<text transform="translate(502,308) rotate(90)">R547<tspan x="0" dy="8">390K</tspan></text>
<text text-anchor="middle" transform="translate(547,300) rotate(90)">D503<tspan x="0" dy="8">MA2C700A0F</tspan></text>
<text transform="translate(447,337) rotate(90)">C534<tspan x="0" dy="8">50V33</tspan></text>
<text transform="translate(447,372) rotate(90)">R548<tspan x="0" dy="8">330K</tspan></text>
<text transform="translate(502,373) rotate(90)">D503</text>
<text text-anchor="middle" transform="translate(566,365) rotate(90)">D504<tspan x="0" dy="8">B0AACK000004</tspan></text>
<text transform="translate(519,401) rotate(90)">R545<tspan x="0" dy="8">220K</tspan></text>
<text transform="translate(566,500) rotate(90)">R546<tspan x="0" dy="8">1K</tspan></text>
<text transform="translate(73,127) rotate(90)">CN507</text>
<text transform="translate(822,130) rotate(90)">CN501</text>
<text transform="translate(1213,108) rotate(90)">E501</text>
<text transform="translate(1204,88) rotate(90)">K4CZ01000027</text>
</g>

<g text-anchor="middle">
<text class="s8" transform="translate(393,320) rotate(90)">Q557</text>
<text class="L15" transform="translate(378,321) rotate(90)" textLength="82" lengthAdjust="spacingAndGlyphs">2SD0592ARA</text>
<text class="s8" transform="translate(370,316) rotate(90)">FAN MOTOR DRIVE</text>
<text class="L16" transform="translate(279,362) rotate(90)">Q557</text>
<text class="L16" transform="translate(166,575) rotate(90)">Q555</text>
<text class="s8" transform="translate(145,619) rotate(90)">Q555</text>
<text class="L16" transform="translate(130,619) rotate(90)" textLength="82" lengthAdjust="spacingAndGlyphs">2SD0592ARA</text>
<text class="s8" transform="translate(122,619) rotate(90)">SWITCH</text>
<text class="L16" transform="translate(210,572) rotate(90)">Q554</text>
<text class="s8" transform="translate(275,557) rotate(90)">Q554</text>
<text class="L15" transform="translate(258,557) rotate(90)" textLength="88" lengthAdjust="spacingAndGlyphs">KTA1267GRTA</text>
<text class="s8" transform="translate(250,557) rotate(90)">REGULATOR</text>
<text class="L16" transform="translate(228,772) rotate(90)">Q553</text>
<text class="s8" transform="translate(274,748) rotate(90)">Q553</text>
<text class="L15" transform="translate(260,748) rotate(90)" textLength="82" lengthAdjust="spacingAndGlyphs">2SD0592ARA</text>
<text class="s8" transform="translate(251,748) rotate(90)">SWITCH</text>
<text class="s8" transform="translate(319,747) rotate(90)">Q552</text>
<text class="L15" transform="translate(305,747) rotate(90)" textLength="88" lengthAdjust="spacingAndGlyphs">KTA1267GRTA</text>
<text class="s8" transform="translate(297,747) rotate(90)">SWITCH</text>
<text class="L16" transform="translate(228,851) rotate(90)">Q552</text>
<text class="L15" transform="translate(467,527) rotate(90)">Q505</text>
<text class="L15" transform="translate(452,526) rotate(90)" textLength="92" lengthAdjust="spacingAndGlyphs">KTC3199GRTA</text>
<text class="s8" transform="translate(444,525) rotate(90)">SWITCHING</text>
<text class="L15" transform="translate(522,523) rotate(90)">Q506</text>
<text class="L15" transform="translate(508,522) rotate(90)" textLength="79" lengthAdjust="spacingAndGlyphs">KRA102MTA</text>
<text class="s8" transform="translate(500,522) rotate(90)">INTERFACE SWITCH</text>
<text class="L15" transform="translate(681,484) rotate(90)">Q520</text>
<text class="L15" transform="translate(664,485) rotate(90)" textLength="76" lengthAdjust="spacingAndGlyphs">KRA102MTA</text>
<text class="s8" transform="translate(656,484) rotate(90)">INTERFACE SWITCH</text>
<text class="L15" transform="translate(675,583) rotate(90)">Q503</text>
<text class="s8" transform="translate(668,684) rotate(90)">Q503</text>
<text class="L15" transform="translate(654,685) rotate(90)" textLength="94" lengthAdjust="spacingAndGlyphs">KTC3199GRTA</text>
<text class="s8" transform="translate(646,685) rotate(90)">SWITCH</text>
<text class="L15" transform="translate(468,646) rotate(90)">Q501</text>
<text class="L15" transform="translate(468,701) rotate(90)">Q502</text>
<text class="s8" transform="translate(490,835) rotate(90)">Q501-Q502</text>
<text class="L15" transform="translate(475,835) rotate(90)" textLength="94" lengthAdjust="spacingAndGlyphs">KTC3199GRTA</text>
<text class="s8" transform="translate(466,835) rotate(90)">SWITCH</text>
<text class="s8" transform="translate(1220,876) rotate(90)">IC501</text>
<text class="L15" transform="translate(1205,877) rotate(90)" textLength="99" lengthAdjust="spacingAndGlyphs">RSN311W64B-P</text>
<text class="s8" transform="translate(1197,876) rotate(90)">POWER HIC</text>
</g>

<text style="font-size:13px" transform="translate(22,53) rotate(90)">8</text>
<text style="font-size:11px" transform="translate(93,112) rotate(90)">接风扇</text>
<text style="font-size:12px" transform="translate(605,25) rotate(90)">接主电路<tspan x="0" dy="11">(JK406) OF</tspan><tspan x="0" dy="11">SA-HT603/863-S</tspan></text>

<text style="font-size:16px" transform="translate(1329,-2) rotate(90)">8.</text>
<text style="font-size:20px" transform="translate(1325,40) rotate(90)">电路原理图</text>
<text style="font-size:24px" transform="translate(1322,160) rotate(90)" textLength="220" lengthAdjust="spacingAndGlyphs">SCHEMATIC DIAGRAM-1</text>
<rect x="1277" y="158" width="39" height="38" fill="#1a1a1a"/>
<text style="font-size:38px;font-weight:bold;fill:#fff" text-anchor="middle" transform="translate(1283,177) rotate(90)">A</text>
<text style="font-size:18px" transform="translate(1281,205) rotate(90)">功放电路</text>
<path d="M1298,403V428" stroke="#000" stroke-width="1.5" stroke-dasharray="5,4"/>
<path d="M1284,402V440" stroke="#000" stroke-width="2"/>
<text class="s9" transform="translate(1294,432) rotate(90)">: -B 信号线</text>
<text class="s9" transform="translate(1280,445) rotate(90)">: +B 信号线</text>
<text class="s9" transform="translate(1294,612) rotate(90)">: 主信号线</text>

<g class="hw">
<text x="135" y="97" textLength="62" lengthAdjust="spacingAndGlyphs">здесь</text>
<text x="215" y="86" textLength="75" lengthAdjust="spacingAndGlyphs">кулер</text>
<text x="302" y="86" textLength="55" lengthAdjust="spacingAndGlyphs">но не</text>
<text x="362" y="92" textLength="90" lengthAdjust="spacingAndGlyphs">фурычит</text>
<text x="463" y="97" style="font-size:30px" textLength="92" lengthAdjust="spacingAndGlyphs">(рабочий)</text>
<text x="700" y="80" textLength="27" lengthAdjust="spacingAndGlyphs">на</text>
<text x="740" y="80" textLength="77" lengthAdjust="spacingAndGlyphs">пульт</text>
<text x="827" y="80" style="font-size:30px" textLength="86" lengthAdjust="spacingAndGlyphs">(сгорел)</text>
<text x="815" y="120" textLength="62" lengthAdjust="spacingAndGlyphs">сюда</text>
<text x="890" y="120" textLength="14" lengthAdjust="spacingAndGlyphs">я</text>
<text x="918" y="121" textLength="129" lengthAdjust="spacingAndGlyphs">подключил</text>
<text x="1053" y="125" textLength="82" lengthAdjust="spacingAndGlyphs">сигнал</text>
<text x="778" y="116" style="font-size:16px">+</text>
<text x="797" y="126" style="font-size:16px">-</text>
</g>
<g stroke="#000" fill="none" stroke-width="1">
<path d="M134,108L110,140M110,140L110,126M110,140L136,132"/>
<path d="M690,83Q670,90 646,110M646,110L668,110M646,110L658,99"/>
<path d="M773,117Q735,125 707,148M707,148L712,135M707,148L722,142"/>
<path d="M797,120Q760,128 722,148M722,148L736,146M722,148L726,139"/>
</g>
</svg>
</body></html>
